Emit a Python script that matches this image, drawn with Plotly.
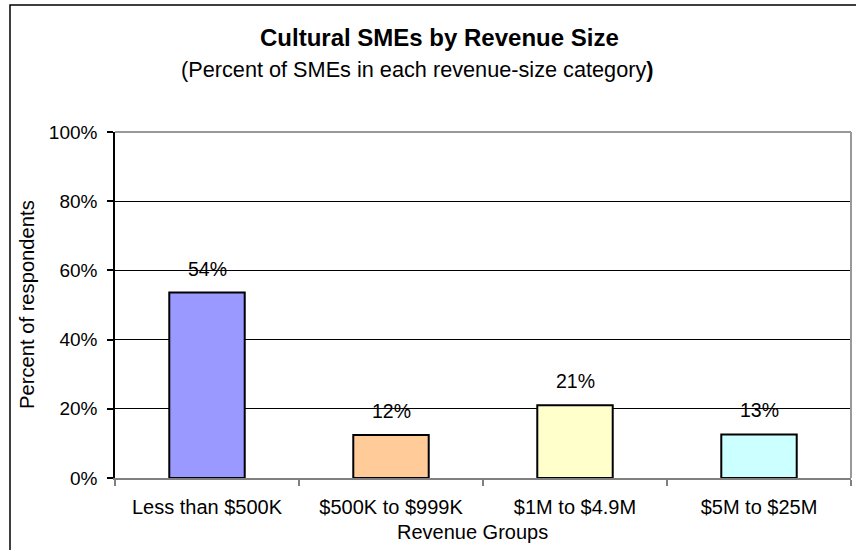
import plotly.graph_objects as go

# Survey results: share of cultural SMEs in each revenue-size group
categories = ["Less than $500K", "$500K to $999K", "$1M to $4.9M", "$5M to $25M"]
percent = [53.6, 12.4, 21.0, 12.6]
bar_colors = ["#9999FF", "#FFCC99", "#FFFFCC", "#CCFFFF"]
y_ticks = [0, 20, 40, 60, 80, 100]
y_tick_labels = ["0%", "20%", "40%", "60%", "80%", "100%"]

FONT = "Arial, Liberation Sans, sans-serif"

# plot area in pixels
L, R, T, B = 115, 851, 132, 478
W, H = 856, 550
pw, ph = R - L, B - T


def px(x):
    return (x - L) / pw


def py(y):
    return (B - y) / ph


fig = go.Figure()
fig.add_trace(go.Bar(
    x=categories,
    y=percent,
    width=0.41,
    marker=dict(color=bar_colors, line=dict(color="black", width=2)),
    hoverinfo="skip",
))

# value labels above each bar
for c, v in zip(categories, percent):
    fig.add_annotation(x=c, y=v, xref="x", yref="y", text=f"{v:.0f}%",
                       showarrow=False, yanchor="middle", yshift=24,
                       font=dict(family=FONT, size=19.5, color="black"))

# titles
fig.add_annotation(x=px(439), y=py(38), xref="paper", yref="paper",
                   text="<b>Cultural SMEs by Revenue Size</b>", showarrow=False,
                   xanchor="center", yanchor="middle",
                   font=dict(family=FONT, size=24, color="black"))
fig.add_annotation(x=px(417), y=py(70), xref="paper", yref="paper",
                   text="(Percent of SMEs in each revenue-size category<b>)</b>",
                   showarrow=False, xanchor="center", yanchor="middle",
                   font=dict(family=FONT, size=21.7, color="black"))
fig.add_annotation(x=px(27), y=0.5, xref="paper", yref="paper",
                   text="Percent of respondents", textangle=-90, showarrow=False,
                   xanchor="center", yanchor="middle",
                   font=dict(family=FONT, size=20.2, color="black"))
fig.add_annotation(x=px(472), y=py(532), xref="paper", yref="paper",
                   text="Revenue Groups", showarrow=False,
                   xanchor="center", yanchor="middle",
                   font=dict(family=FONT, size=20, color="black"))

# outer chart frame
fig.add_shape(type="rect", xref="paper", yref="paper",
              x0=px(10), x1=px(870), y0=py(570), y1=py(5),
              line=dict(color="black", width=1.5), layer="below")
# plot-area frame (top and right in grey)
fig.add_shape(type="line", xref="paper", yref="paper", x0=0, x1=1, y0=1, y1=1,
              line=dict(color="#999999", width=2))
fig.add_shape(type="line", xref="paper", yref="paper", x0=1, x1=1, y0=0, y1=1,
              line=dict(color="#999999", width=2))

fig.update_layout(
    width=W, height=H,
    margin=dict(l=L, r=W - R, t=T, b=H - B),
    paper_bgcolor="white", plot_bgcolor="white",
    showlegend=False,
    bargap=0.59,
    xaxis=dict(
        showline=True, linecolor="#808080", linewidth=2,
        ticks="outside", ticklen=6, tickcolor="#808080", tickwidth=1.5,
        tickson="boundaries", ticklabelstandoff=10,
        tickfont=dict(family=FONT, size=20, color="black"),
        showgrid=False, fixedrange=True,
    ),
    yaxis=dict(
        range=[0, 100], tickvals=y_ticks, ticktext=y_tick_labels,
        showline=True, linecolor="black", linewidth=1.5,
        ticks="outside", ticklen=6, tickcolor="black", tickwidth=1.5,
        ticklabelstandoff=6,
        showgrid=True, gridcolor="black", gridwidth=1,
        tickfont=dict(family=FONT, size=19, color="black"),
        zeroline=False, fixedrange=True,
    ),
)

fig.write_html("out.html")
